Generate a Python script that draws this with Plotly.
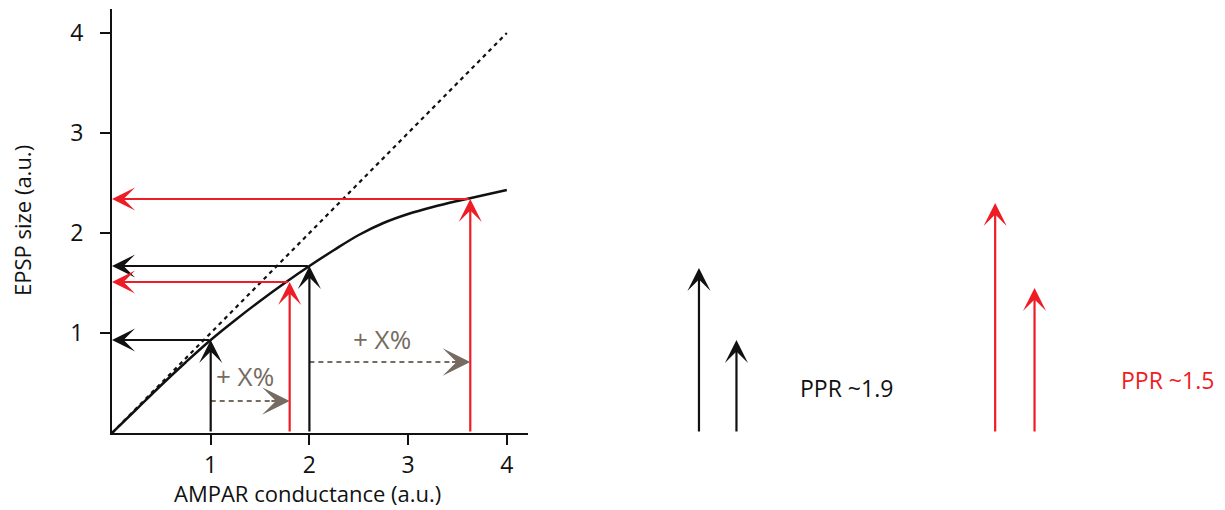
import plotly.graph_objects as go

# Saturating input-output relation: AMPAR conductance -> EPSP size
conductance_curve = [0, 0.25, 0.5, 0.75, 1.0, 1.25, 1.5, 1.75, 2.0, 2.25, 2.5, 2.75, 3.0, 3.25, 3.5, 3.75, 4.0]
epsp_curve = [0, 0.24, 0.48, 0.71, 0.93, 1.13, 1.32, 1.50, 1.67, 1.83, 1.98, 2.10, 2.19, 2.26, 2.32, 2.375, 2.43]

# Linear (unsaturated) reference
linear_x = [0, 4]
linear_y = [0, 4]

# Paired pulses: baseline and potentiated conductances with resulting EPSPs
base_g = [1.0, 2.0]
base_epsp = [0.93, 1.67]
pot_g = [1.8, 3.63]
pot_epsp = [1.51, 2.34]

# "+ X%" shift arrows
shift_y = [0.32, 0.71]
shift_label = ["+ X%", "+ X%"]
shift_label_pos = [(1.35, 0.57), (2.74, 0.94)]

# Right-hand summary arrows (pulse positions, heights)
ppr_black_x = [0.0, 1.0]
ppr_black_h = [1.65, 0.93]
ppr_red_x = [7.9, 8.95]
ppr_red_h = [2.30, 1.45]
ppr_text = ["PPR ~1.9", "PPR ~1.5"]

BLACK = "#111111"
RED = "#ee1c25"
GRAY = "#766b60"
FONT = "Open Sans"

fig = go.Figure()

fig.add_trace(go.Scatter(x=linear_x, y=linear_y, mode="lines",
                         line=dict(color=BLACK, width=2.2, dash="4px,4px"),
                         hoverinfo="skip", showlegend=False))
fig.add_trace(go.Scatter(x=conductance_curve, y=epsp_curve, mode="lines",
                         line=dict(color=BLACK, width=2.5, shape="spline"),
                         hoverinfo="skip", showlegend=False))

# dashed shafts of the shift arrows
for (g0, g1, yy) in zip(base_g, pot_g, shift_y):
    fig.add_trace(go.Scatter(x=[g0, g1 - 0.12], y=[yy, yy], mode="lines",
                             line=dict(color=GRAY, width=2, dash="5px,4px"),
                             hoverinfo="skip", showlegend=False))

ann = []


def arrow(x, y, ax, ay, color, xref="x", yref="y", size=1.75, width=2.2):
    ann.append(dict(x=x, y=y, ax=ax, ay=ay, xref=xref, yref=yref,
                    axref=xref, ayref=yref, showarrow=True, text="",
                    arrowhead=3, arrowsize=size, arrowwidth=width,
                    arrowcolor=color))


# vertical (conductance -> curve) and horizontal (curve -> EPSP axis) arrows
for g, e in zip(base_g, base_epsp):
    arrow(g, e, g, 0, BLACK)
    arrow(0, e, g, e, BLACK)
for g, e in zip(pot_g, pot_epsp):
    arrow(g, e, g, 0, RED)
    arrow(0, e, g, e, RED)

# heads of the shift arrows
for g1, yy in zip(pot_g, shift_y):
    arrow(g1, yy, g1 - 0.2, yy, GRAY, size=2.3, width=2)

for txt, (tx, ty) in zip(shift_label, shift_label_pos):
    ann.append(dict(x=tx, y=ty, xref="x", yref="y", text=txt, showarrow=False,
                    xanchor="center", yanchor="middle",
                    font=dict(family=FONT, size=26, color=GRAY)))

# right-hand paired-pulse summary
for xx, hh in zip(ppr_black_x, ppr_black_h):
    arrow(xx, hh, xx, 0, BLACK, xref="x2", yref="y2")
for xx, hh in zip(ppr_red_x, ppr_red_h):
    arrow(xx, hh, xx, 0, RED, xref="x2", yref="y2")

ann.append(dict(x=2.63, y=0.45, xref="x2", yref="y2", text=ppr_text[0],
                showarrow=False, xanchor="left", yanchor="middle",
                font=dict(family=FONT, size=23, color=BLACK)))
ann.append(dict(x=11.2, y=0.53, xref="x2", yref="y2", text=ppr_text[1],
                showarrow=False, xanchor="left", yanchor="middle",
                font=dict(family=FONT, size=23, color=RED)))

# axis titles (positions given in pixels, converted below)
ann.append(dict(x=307, y=493, xref="paper", yref="paper", text="AMPAR conductance (a.u.)",
                showarrow=False, xanchor="center", yanchor="middle",
                font=dict(family=FONT, size=22, color=BLACK)))
ann.append(dict(x=22, y=221, xref="paper", yref="paper", text="EPSP size (a.u.)",
                showarrow=False, textangle=-90, xanchor="center", yanchor="middle",
                font=dict(family=FONT, size=22, color=BLACK)))

W, H = 1225, 510
L, R, T, B = 112, 0, 9, 77
pw, ph = W - L - R, H - T - B
for a in ann:
    if a["xref"] == "paper":
        a["x"] = (a["x"] - L) / pw
        a["y"] = (H - B - a["y"]) / ph

fig.update_layout(
    width=W, height=H, autosize=False,
    margin=dict(l=L, r=R, t=T, b=B),
    plot_bgcolor="white", paper_bgcolor="white",
    font=dict(family=FONT, size=22, color=BLACK),
    annotations=ann,
    xaxis=dict(domain=[0, (528 - L) / pw], range=[0, 416 / 98.7],
               tickvals=[1, 2, 3, 4], ticktext=["1", "2", "3", "4"],
               showline=True, linecolor=BLACK, linewidth=2,
               ticks="outside", ticklen=10, tickwidth=2, tickcolor=BLACK,
               showgrid=False, zeroline=False, fixedrange=True,
               tickfont=dict(family=FONT, size=23)),
    yaxis=dict(domain=[0, 1], range=[0, 4.24],
               tickvals=[1, 2, 3, 4], ticktext=["1", "2", "3", "4"],
               showline=True, linecolor=BLACK, linewidth=2,
               ticks="outside", ticklen=10, tickwidth=2, tickcolor=BLACK,
               ticklabelstandoff=12,
               showgrid=False, zeroline=False, fixedrange=True,
               tickfont=dict(family=FONT, size=23)),
    xaxis2=dict(domain=[0.45, 1.0], range=[-2.297, 14.03], visible=False,
                anchor="y2", fixedrange=True),
    yaxis2=dict(domain=[0, 1], range=[0, 4.24], visible=False,
                anchor="x2", fixedrange=True),
)

fig.write_html("out.html")
